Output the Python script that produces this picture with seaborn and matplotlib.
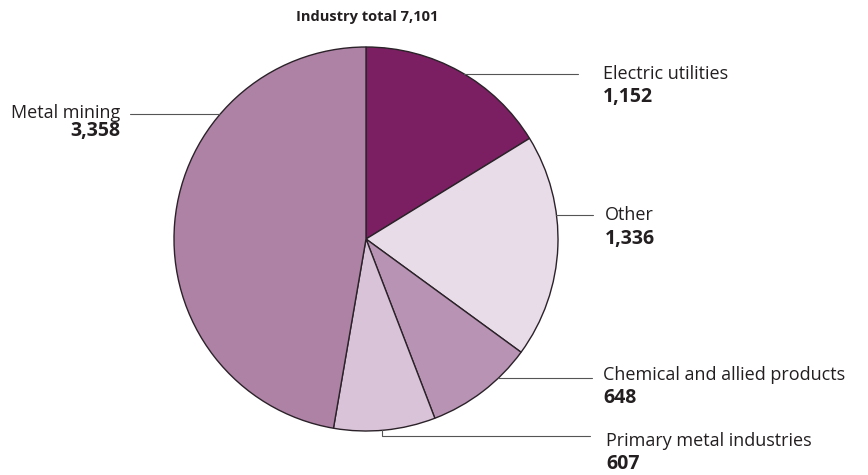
import numpy as np
import matplotlib
matplotlib.use("Agg")
import matplotlib.pyplot as plt
import seaborn as sns

# data
sectors = ["Electric utilities", "Other", "Chemical and allied products",
           "Primary metal industries", "Metal mining"]
values = [1152, 1336, 648, 607, 3358]
colors = ["#7b1f62", "#e8dce9", "#b893b4", "#d9c3d8", "#ae82a5"]
total_label = "Industry total 7,101"

sns.set_theme(style="white")
plt.rcParams["font.family"] = ["Open Sans", "DejaVu Sans"]

# pixel layout helpers (center of pie at px 366,239, radius 192 px)
cx, cy, r = 366, 239, 192
W, H = 868, 475


def d(px, py):
    return (px - cx) / r, (cy - py) / r


fig = plt.figure(figsize=(W / 100, H / 100), dpi=100)
ax = fig.add_axes([0, 0, 1, 1])
ax.pie(values, colors=colors, startangle=90, counterclock=False, radius=1,
       wedgeprops=dict(edgecolor="#2b2229", linewidth=1.0))
ax.set_xlim(-cx / r, (W - cx) / r)
ax.set_ylim((cy - H) / r, cy / r)
ax.set_aspect("equal")
ax.axis("off")

txt = "#231f20"
line_c = "#555555"
fs_name, fs_num = 13, 14

# label placement (pixels): line y, line end x, text x, side
layout = {
    "Electric utilities": dict(ly=74, lx=578, tx=603, ny=97, side="right"),
    "Other": dict(ly=215, lx=593, tx=605, ny=239, side="right"),
    "Chemical and allied products": dict(ly=378, lx=592, tx=603, ny=398,
                                         side="right", ty=375),
    "Metal mining": dict(ly=114, lx=130, tx=120, ny=131, side="left", ty=113),
}

for name, val in zip(sectors, values):
    if name == "Primary metal industries":
        continue
    L = layout[name]
    _, y = d(0, L["ly"])
    xe = np.sqrt(1 - y ** 2)
    if L["side"] == "left":
        xe = -xe
    x_end, _ = d(L["lx"], 0)
    ax.plot([xe, x_end], [y, y], color=line_c, lw=0.8)
    tx, ty = d(L["tx"], L.get("ty", L["ly"]))
    _, ny = d(0, L["ny"])
    ha = "left" if L["side"] == "right" else "right"
    ax.text(tx, ty, name, ha=ha, va="center", fontsize=fs_name, color=txt)
    ax.text(tx, ny, f"{val:,}", ha=ha, va="center", fontsize=fs_num,
            fontweight="bold", color=txt)

# primary metal industries: elbow leader from the bottom
x0, _ = d(382, 0)
y0 = -np.sqrt(1 - x0 ** 2)
_, y1 = d(0, 436)
x1, _ = d(590, 0)
ax.plot([x0, x0, x1], [y0, y1, y1], color=line_c, lw=0.8)
tx, ty = d(606, 441)
_, ny = d(0, 464)
ax.text(tx, ty, "Primary metal industries", ha="left", va="center",
        fontsize=fs_name, color=txt)
ax.text(tx, ny, f"{values[3]:,}", ha="left", va="center", fontsize=fs_num,
        fontweight="bold", color=txt)

tx, ty = d(367, 17)
ax.text(tx, ty, total_label, ha="center", va="center", fontsize=10.5,
        fontweight="bold", color=txt)

fig.savefig("out.png", dpi=100)
